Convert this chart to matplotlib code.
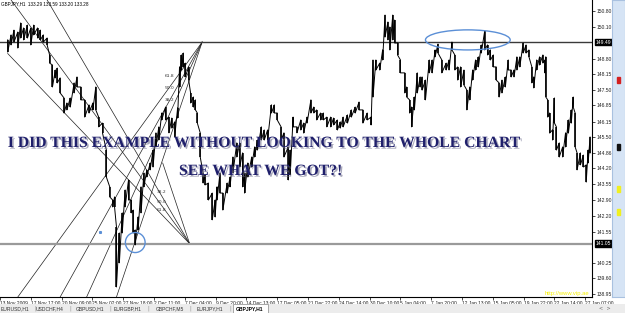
import numpy as np
import matplotlib.pyplot as plt
import matplotlib.patches as mpatches
import matplotlib.patheffects as pe
from matplotlib.transforms import blended_transform_factory

BAR = [16, 23, 29, 37, 43, 49, 57, 64, 70, 78, 84, 90, 98, 103, 109, 115, 119, 125, 133, 139,
       146, 154, 160, 168, 176, 185, 193, 199, 205, 213, 221, 228, 234, 238, 242, 248, 254, 260, 267, 273,
       277, 281, 287, 293, 299, 305, 312, 318, 324, 330, 336, 344,
       351, 357, 363, 369, 373, 377, 381, 385, 392, 396, 402, 406, 410, 416, 422, 426, 433, 441, 447, 451,
       457, 463, 472, 478, 484, 492, 498, 504, 508, 515, 523, 529, 535, 543, 549, 556, 564, 570, 576, 584,
       590, 599, 603, 609, 617, 625, 631, 638, 646, 652,
       658, 666, 672, 679, 687, 693, 701, 707, 713, 722, 730, 738, 746, 754, 763, 771, 775, 781, 789, 795,
       800, 806, 810, 816, 820, 826, 832, 841, 845, 851, 855, 861, 867, 873, 877, 884, 892, 898, 904, 910,
       918, 927, 933, 939, 945, 951,
       957, 964, 970, 976, 982, 988, 994, 1000, 1007, 1013, 1019, 1025, 1031, 1037, 1043, 1050, 1056, 1062,
       1068, 1074, 1080, 1087, 1093, 1099, 1105, 1109, 1115, 1121, 1128, 1132, 1134, 1138, 1142, 1148, 1152,
       1156, 1162, 1169, 1175, 1181, 1187, 1191, 1195, 1199, 1206, 1212, 1218, 1222, 1226]
HIGH = [149.58, 149.79, 149.99, 149.91, 150.29, 150.08, 150.20, 150.08, 150.20, 150.08,
        149.99, 149.79, 149.66, 148.95, 148.53, 148.32, 148.40, 147.99, 147.15, 146.94,
        147.15, 147.78, 148.03, 147.61, 147.07, 146.86, 146.94, 147.61, 146.35, 146.10,
        144.97, 143.43, 142.88, 143.01, 141.75, 141.50, 142.34, 143.30, 143.72, 142.88,
        142.46, 141.63, 142.17, 143.43, 144.01, 144.14, 144.43, 144.97, 145.69, 145.94,
        146.52, 146.77,
        146.35, 146.31, 146.15, 146.73, 148.45, 148.95, 149.03, 148.61, 148.45, 147.36,
        147.19, 147.07, 146.52, 145.69, 144.01, 143.93, 143.59, 143.17, 142.88, 143.43,
        144.01, 143.17, 143.59, 143.84, 144.68, 145.27, 145.27, 144.85, 144.01, 144.43,
        144.68, 145.10, 145.39, 145.94, 145.81, 145.81, 146.86, 146.86, 146.52, 145.94,
        145.69, 145.10, 144.97, 146.35, 145.94, 146.23, 146.10, 146.35, 147.07, 146.77,
        146.65, 146.52, 146.52, 146.35, 146.35, 146.31, 146.23, 146.15, 146.35, 146.44,
        146.65, 146.77, 146.98, 146.65, 146.52, 146.35, 148.74, 148.74, 148.61, 149.16,
        150.62, 150.33, 150.12, 150.62, 150.41, 149.45, 148.74, 148.20, 147.61, 147.07,
        146.77, 147.19, 148.20, 148.03, 148.03, 147.90, 148.74, 148.74, 149.16, 149.41,
        148.74, 148.61, 148.74, 149.49, 148.95, 148.45,
        148.45, 148.32, 147.48, 147.61, 148.32, 148.74, 148.87, 149.37, 149.95, 149.37,
        149.16, 148.95, 148.45, 147.78, 147.90, 148.03, 148.74, 148.32, 148.32, 148.87,
        148.87, 149.45, 149.37, 149.16, 148.45, 148.03, 148.74, 148.87, 148.95, 148.74,
        148.87, 147.07, 146.52, 145.81, 147.15, 145.94, 145.27, 145.10, 145.69, 146.23,
        146.65, 147.19, 146.52, 144.85, 144.85, 144.76, 144.35, 144.97, 145.52]
LOW = [149.07, 149.37, 149.49, 149.24, 149.66, 149.58, 149.66, 149.37, 149.79, 149.66,
       149.58, 149.49, 149.37, 148.61, 147.61, 147.99, 147.78, 147.36, 146.52, 146.65,
       146.77, 147.36, 147.61, 147.07, 146.35, 146.52, 146.65, 146.65, 145.94, 145.68,
       143.84, 143.01, 142.59, 142.59, 139.24, 140.25, 141.50, 142.59, 142.88, 142.34,
       141.50, 141.00, 141.63, 142.34, 143.43, 143.84, 144.14, 144.26, 145.10, 145.39,
       146.23, 146.23,
       145.69, 145.89, 145.52, 146.31, 147.61, 148.32, 148.45, 148.03, 147.90, 146.94,
       146.77, 146.65, 146.10, 144.68, 143.59, 143.51, 142.88, 142.05, 142.17, 142.88,
       143.17, 142.46, 143.17, 143.43, 144.01, 144.68, 144.26, 143.43, 143.17, 143.84,
       144.26, 144.68, 144.97, 145.39, 145.39, 145.39, 146.52, 146.52, 146.23, 145.39,
       144.68, 143.72, 143.93, 145.94, 145.69, 145.81, 145.68, 146.10, 146.52, 146.52,
       146.23, 146.23, 146.23, 145.94, 145.94, 146.02, 145.81, 145.89, 145.94, 146.10,
       146.35, 146.52, 146.65, 146.10, 146.23, 146.02, 147.19, 148.32, 148.32, 148.74,
       149.70, 149.58, 149.16, 149.58, 149.45, 148.95, 148.20, 147.36, 147.19, 146.52,
       145.94, 146.65, 147.36, 147.61, 147.48, 147.07, 148.20, 148.20, 148.87, 149.03,
       148.20, 148.32, 148.32, 149.16, 148.32, 147.90,
       147.61, 147.69, 146.65, 147.07, 147.90, 148.32, 148.45, 149.03, 149.16, 148.95,
       148.74, 148.45, 147.90, 147.19, 147.36, 147.61, 148.32, 148.03, 148.03, 148.32,
       148.45, 149.03, 149.03, 148.87, 147.78, 147.57, 148.32, 148.53, 148.61, 148.20,
       147.19, 146.35, 145.68, 145.39, 146.10, 144.97, 144.68, 144.68, 145.10, 145.68,
       146.10, 146.77, 145.10, 144.14, 144.35, 144.26, 143.63, 144.43, 144.85]

TIME_LABELS = ["13 Nov 2009", "17 Nov 17:00", "20 Nov 09:00", "25 Nov 02:00", "27 Nov 18:00",
               "2 Dec 11:00", "7 Dec 04:00", "9 Dec 20:00", "14 Dec 13:00", "17 Dec 05:00",
               "21 Dec 22:00", "24 Dec 14:00", "30 Dec 10:00", "5 Jan 04:00", "7 Jan 20:00",
               "12 Jan 13:00", "15 Jan 05:00", "19 Jan 22:00", "22 Jan 14:00", "27 Jan 07:00"]
BARS_PER_LABEL = 64
PRICE_TICKS = [150.80, 150.10, 148.80, 148.15, 147.50, 146.85, 146.15, 145.50, 144.86,
               144.20, 143.55, 142.90, 142.20, 141.55, 140.25, 139.60, 138.95]

RESIST = 149.49
SUPPORT = 141.05

# fib fans: origin (bar, price) and far ends of the rays
FAN_TOP = (420, 149.49)
FAN_TOP_ENDS = [(37, 138.82), (125, 138.82), (180, 138.82), (242, 138.82)]
FAN_TOP_LEVELS = ["61.8", "50.0", "38.2"]
FAN_LOW = (394, 141.05)
FAN_LOW_ENDS = [(23, 151.25), (98, 151.25), (16, 149.01)]
FAN_LOW_LEVELS = ["38.2", "50.0", "61.8"]

TABS = ["EURUSD,H1", "USDCHF,H4", "GBPUSD,H1", "EURGBP,H1", "GBPCHF,M5", "EURJPY,H1", "GBPJPY,H1"]

fig = plt.figure(figsize=(6.25, 3.13), dpi=100)
ax = fig.add_axes([0, 16 / 313, 592 / 625, 297 / 313])
ax.set_xlim(16.4, 1230)
ax.set_ylim(138.82, 151.25)

# price: zigzag through high/low of each group
xs = np.repeat(BAR, 2)
ys = np.column_stack([HIGH, LOW]).ravel()
ax.plot(xs, ys, color='black', lw=0.7, zorder=3)
ax.vlines(BAR, LOW, HIGH, color='black', lw=1.1, zorder=3)

ax.axhline(RESIST, color='#3a3a3a', lw=1.0, zorder=2)
ax.axhline(SUPPORT, color='#9a9a9a', lw=1.6, zorder=2)

for end in FAN_TOP_ENDS:
    ax.plot([FAN_TOP[0], end[0]], [FAN_TOP[1], end[1]], color='#202020', lw=0.5, zorder=1)
for end in FAN_LOW_ENDS:
    ax.plot([FAN_LOW[0], end[0]], [FAN_LOW[1], end[1]], color='#202020', lw=0.5, zorder=1)
ax.plot([338, FAN_LOW[0]], [144.43, FAN_LOW[1]], color='#202020', lw=0.5, zorder=1)
for lab, p in zip(FAN_TOP_LEVELS, [148.07, 147.57, 147.07]):
    ax.text(352, p, lab, fontsize=3.2, color='#333333', ha='center', va='center')
for lab, p in zip(FAN_LOW_LEVELS, [143.22, 142.80, 142.46]):
    ax.text(335, p, lab, fontsize=3.2, color='#333333', ha='center', va='center')

ax.add_patch(mpatches.Ellipse((972, 149.58), 176, 0.84, fill=False, ec='#5b8fd6', lw=1.0, zorder=4))
ax.add_patch(mpatches.Ellipse((281, 141.10), 41, 0.84, fill=False, ec='#5b8fd6', lw=1.0, zorder=4))
ax.plot([207], [141.52], marker='s', ms=1.2, color='#5b8fd6')

ax.set_xticks(np.arange(len(TIME_LABELS)) * BARS_PER_LABEL)
ax.set_xticklabels(TIME_LABELS, ha='left', fontsize=3.5, family='Liberation Sans', color='#222222')
ax.tick_params(axis='x', length=2, width=0.5, pad=1)
ax.yaxis.tick_right()
ax.set_yticks(PRICE_TICKS)
ax.set_yticklabels([f"{p:.2f}" for p in PRICE_TICKS], fontsize=3.6, family='Liberation Sans', color='#222222')
ax.tick_params(axis='y', length=2, width=0.5, pad=1)
for s in ['top', 'left']:
    ax.spines[s].set_visible(False)
for s in ['right', 'bottom']:
    ax.spines[s].set_linewidth(0.8)

tr = blended_transform_factory(ax.transAxes, ax.transData)
for p in [RESIST, SUPPORT]:
    ax.text(1.006, p, f"{p:.2f}", transform=tr, fontsize=3.6, color='white', va='center', ha='left',
            family='Liberation Sans', bbox=dict(boxstyle='square,pad=0.15', fc='black', ec='black'))

ax.text(0.002, 0.995, "GBPJPY,H1  133.29 133.59 133.20 133.28", transform=ax.transAxes,
        fontsize=3.3, va='top', ha='left', family='Liberation Sans')
ax.text(0.995, 0.005, "http://www.vip.ae", transform=ax.transAxes, fontsize=4.2,
        color='#f5f000', ha='right', va='bottom', family='Liberation Sans')

shadow = [pe.SimplePatchShadow(offset=(1.2, -1.2), shadow_rgbFace='#707090', alpha=0.6), pe.Normal()]
fig.text(265 / 625, 1 - 143 / 313, "I DID THIS EXAMPLE WITHOUT LOOKING TO THE WHOLE CHART",
         fontsize=11.3, family='Liberation Serif', weight='bold', color='#1f1f6b',
         ha='center', va='center', path_effects=shadow)
fig.text(261 / 625, 1 - 171 / 313, "SEE WHAT WE GOT?!",
         fontsize=11.3, family='Liberation Serif', weight='bold', color='#1f1f6b',
         ha='center', va='center', path_effects=shadow)

# right hand scroll strip
sb = fig.add_axes([612 / 625, 16 / 313, 13 / 625, 297 / 313])
sb.set_facecolor('#d6e4f5')
sb.set_xlim(0, 1)
sb.set_ylim(297, 0)
sb.set_xticks([])
sb.set_yticks([])
for s in sb.spines.values():
    s.set_color('#a9c1e0')
for yy, c in [(80, '#d42020'), (147, '#111111'), (189, '#f0f020'), (212, '#f0f020')]:
    sb.add_patch(mpatches.Rectangle((0.35, yy - 3), 0.3, 6, color=c))

# symbol tabs
tb = fig.add_axes([0, 0, 1, 9 / 313])
tb.set_facecolor('#ececec')
tb.set_xlim(0, 625)
tb.set_ylim(0, 1)
tb.set_xticks([])
tb.set_yticks([])
for s in tb.spines.values():
    s.set_visible(False)
tab_x = [15, 50, 90, 128, 170, 210, 250]
for i, (t, x) in enumerate(zip(TABS, tab_x)):
    if t == "GBPJPY,H1":
        tb.add_patch(mpatches.Rectangle((233, 0), 35, 1, fc='white', ec='#888888', lw=0.5))
        tb.text(x, 0.5, t, fontsize=3.6, ha='center', va='center', weight='bold', family='Liberation Sans')
    else:
        tb.text(x, 0.5, t, fontsize=3.6, ha='center', va='center', family='Liberation Sans', color='#333333')
        tb.text(x + 20, 0.5, "|", fontsize=3.6, ha='center', va='center', color='#888888')
tb.text(605, 0.5, "<  >", fontsize=3.6, ha='center', va='center', color='#666666')

fig.savefig('out.png', dpi=100)
